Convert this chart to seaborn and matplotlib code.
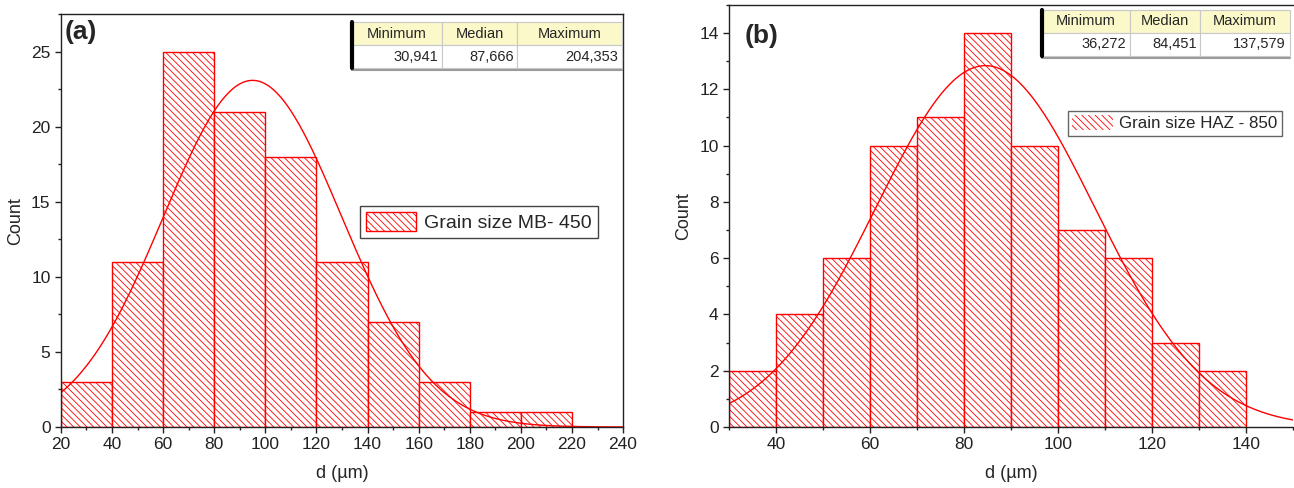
import numpy as np
import seaborn as sns
import matplotlib.pyplot as plt
from matplotlib.patches import Patch
from matplotlib.ticker import MultipleLocator

# ── Data ─────────────────────────────────────────────────────────────────
edges_a = [20, 40, 60, 80, 100, 120, 140, 160, 180, 200, 220]
counts_a = [3, 11, 25, 21, 18, 11, 7, 3, 1, 1]
fit_a = (95.0, 34.9)          # normal fit: mean, sd
stats_a = ["30,941", "87,666", "204,353"]
label_a = "Grain size MB- 450"

edges_b = [30, 40, 50, 60, 70, 80, 90, 100, 110, 120, 130, 140]
counts_b = [2, 4, 6, 10, 11, 14, 10, 7, 6, 3, 2]
fit_b = (84.5, 23.3)
stats_b = ["36,272", "84,451", "137,579"]
label_b = "Grain size HAZ - 850"

stat_cols = ["Minimum", "Median", "Maximum"]

sns.set_theme(style="white")
plt.rcParams["font.family"] = ["Liberation Sans", "DejaVu Sans"]
plt.rcParams["hatch.linewidth"] = 0.6

RED = "#ff0000"
HATCH = "\\" * 5

fig = plt.figure(figsize=(12.94, 4.88), dpi=100)
ax_a = fig.add_axes([0.0471, 0.125, 0.4344, 0.846])
ax_b = fig.add_axes([0.5634, 0.125, 0.4362, 0.865])


def draw_panel(ax, edges, counts, fit, n_total, xlim, ylim):
    e = np.asarray(edges, float)
    centers = list((e[:-1] + e[1:]) / 2)
    sns.histplot(x=centers, weights=list(counts), bins=list(edges), ax=ax,
                 stat="count", alpha=1, linewidth=1.0)
    for p in ax.patches:
        p.set_facecolor("white")
        p.set_edgecolor(RED)
        p.set_hatch(HATCH)
    bw = e[1] - e[0]
    mu, sd = fit
    xs = np.linspace(xlim[0], xlim[1], 400)
    ys = n_total * bw * np.exp(-0.5 * ((xs - mu) / sd) ** 2) / (sd * np.sqrt(2 * np.pi))
    sns.lineplot(x=xs, y=ys, ax=ax, color=RED, linewidth=1.0)
    ax.set_xlim(*xlim)
    ax.set_ylim(*ylim)
    ax.set_xlabel("d (µm)", fontsize=13, labelpad=9)
    ax.set_ylabel("Count", fontsize=13, labelpad=5)
    for s in ax.spines.values():
        s.set_color("#222222")
        s.set_linewidth(1.0)
    ax.tick_params(axis="both", which="major", direction="out", length=4,
                   width=1, labelsize=12.5, colors="#222222", left=True, bottom=True)
    ax.tick_params(axis="both", which="minor", direction="out", length=2,
                   width=1, left=True, bottom=True)


def draw_table(ax, vals, bbox, widths):
    tb = ax.table(cellText=[stat_cols, vals], bbox=bbox, colWidths=widths,
                  cellLoc="center", zorder=5)
    tb.auto_set_font_size(False)
    for (r, c), cell in tb.get_celld().items():
        cell.set_edgecolor("#c8c8c8")
        cell.set_linewidth(0.8)
        cell.get_text().set_fontsize(10.5)
        if r == 0:
            cell.set_facecolor("#fbf8c9")
        else:
            cell.set_facecolor("white")
            cell.get_text().set_ha("right")
            cell.PAD = 0.04
    x0, y0, w, h = bbox
    ax.plot([x0, x0], [y0, y0 + h], transform=ax.transAxes, color="black",
            linewidth=3, zorder=6, clip_on=False)
    ax.plot([x0, x0 + w], [y0 - 0.004, y0 - 0.004], transform=ax.transAxes,
            color="#9a9a9a", linewidth=1.5, zorder=4, clip_on=False)


# ── Panel (a) ────────────────────────────────────────────────────────────
draw_panel(ax_a, edges_a, counts_a, fit_a, sum(counts_a), (20, 240), (0, 27.5))
ax_a.xaxis.set_major_locator(MultipleLocator(20))
ax_a.xaxis.set_minor_locator(MultipleLocator(10))
ax_a.yaxis.set_major_locator(MultipleLocator(5))
ax_a.yaxis.set_minor_locator(MultipleLocator(2.5))
ax_a.text(0.006, 0.985, "(a)", transform=ax_a.transAxes, fontsize=19,
          fontweight="bold", va="top", ha="left")
leg_a = ax_a.legend(handles=[Patch(facecolor="white", edgecolor=RED, hatch=HATCH)],
                    labels=[label_a], loc="center left",
                    bbox_to_anchor=(0.532, 0.496), borderaxespad=0, fontsize=14,
                    fancybox=False, framealpha=1, edgecolor="#444444",
                    handlelength=2.6, handleheight=1.1, borderpad=0.3,
                    handletextpad=0.4)
leg_a.get_frame().set_linewidth(1.0)
draw_table(ax_a, stats_a, [0.518, 0.869, 0.48, 0.112], [90, 75, 105])

# ── Panel (b) ────────────────────────────────────────────────────────────
draw_panel(ax_b, edges_b, counts_b, fit_b, sum(counts_b), (30, 150), (0, 15))
ax_b.set_xticks([40, 60, 80, 100, 120, 140])
ax_b.xaxis.set_minor_locator(MultipleLocator(10))
ax_b.yaxis.set_major_locator(MultipleLocator(2))
ax_b.yaxis.set_minor_locator(MultipleLocator(1))
ax_b.spines["right"].set_visible(False)
ax_b.text(0.028, 0.955, "(b)", transform=ax_b.transAxes, fontsize=19,
          fontweight="bold", va="top", ha="left")
leg_b = ax_b.legend(handles=[Patch(facecolor="white", edgecolor=RED, linewidth=0,
                                   hatch=HATCH)],
                    labels=[label_b], loc="center left",
                    bbox_to_anchor=(0.6, 0.72), borderaxespad=0, fontsize=12.2,
                    fancybox=False, framealpha=1, edgecolor="#666666",
                    handlelength=2.4, handleheight=1.0, borderpad=0.25,
                    handletextpad=0.4)
leg_b.get_frame().set_linewidth(1.0)
draw_table(ax_b, stats_b, [0.554, 0.879, 0.439, 0.109], [88, 70, 90])

fig.savefig("out.png", dpi=100, facecolor="white")
